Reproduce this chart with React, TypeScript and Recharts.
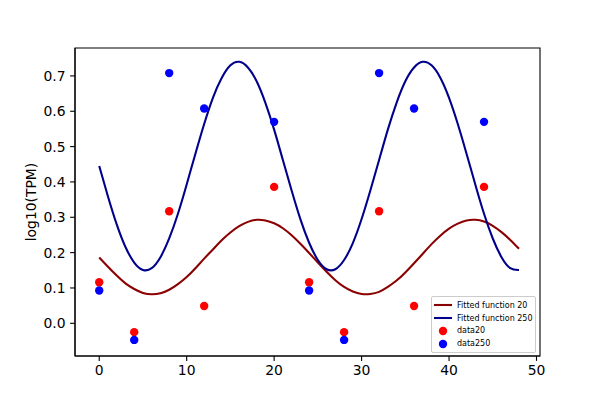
import {
  ComposedChart, Line, Scatter, XAxis, YAxis, ReferenceArea,
} from 'recharts'

const xTicks = [0, 10, 20, 30, 40, 50]
const yTicks = [0, 0.1, 0.2, 0.3, 0.4, 0.5, 0.6, 0.7]

// sample positions
const curveX = [
  0, 1, 2, 3, 4, 5, 6, 7, 8, 9, 10, 11, 12, 13, 14, 15, 16, 17, 18, 19, 20, 21, 22, 23, 24,
  25, 26, 27, 28, 29, 30, 31, 32, 33, 34, 35, 36, 37, 38, 39, 40, 41, 42, 43, 44, 45, 46, 47, 48,
]
const fit20 = [
  0.186, 0.160, 0.135, 0.113, 0.097, 0.086, 0.082, 0.085, 0.095, 0.111, 0.131, 0.156, 0.183,
  0.209, 0.235, 0.257, 0.275, 0.287, 0.293, 0.291, 0.283, 0.269, 0.249, 0.225, 0.199,
  0.172, 0.146, 0.122, 0.103, 0.090, 0.083, 0.083, 0.089, 0.103, 0.121, 0.144, 0.170,
  0.197, 0.224, 0.248, 0.268, 0.282, 0.291, 0.293, 0.288, 0.276, 0.258, 0.236, 0.211,
]
const fit250 = [
  0.445, 0.359, 0.280, 0.216, 0.172, 0.151, 0.156, 0.187, 0.240, 0.310, 0.393, 0.480, 0.564,
  0.638, 0.694, 0.730, 0.740, 0.724, 0.685, 0.624, 0.548, 0.462, 0.376, 0.295, 0.228,
  0.179, 0.153, 0.153, 0.179, 0.227, 0.295, 0.376, 0.462, 0.548, 0.624, 0.685, 0.724,
  0.740, 0.730, 0.695, 0.638, 0.564, 0.480, 0.393, 0.310, 0.240, 0.187, 0.156, 0.151,
]

const sampleX = [0, 4, 8, 12, 20, 24, 28, 32, 36, 44]
const data20 = [0.116, -0.025, 0.317, 0.049, 0.386, 0.116, -0.025, 0.317, 0.049, 0.386]
const data250 = [0.093, -0.047, 0.708, 0.608, 0.570, 0.093, -0.047, 0.708, 0.608, 0.570]

const X_DOMAIN: [number, number] = [-2.77, 50.4]
const Y_DOMAIN: [number, number] = [-0.0925, 0.779]

const pairs = (xs: number[], ys: number[]) => xs.map((x, i) => ({ x, y: ys[i] }))

const legendItems = [
  { name: 'Fitted function 20', color: '#8b0000', kind: 'line' },
  { name: 'Fitted function 250', color: '#00008b', kind: 'line' },
  { name: 'data20', color: '#ff0000', kind: 'dot' },
  { name: 'data250', color: '#0000ff', kind: 'dot' },
]

const dot = (color: string) => (props: any) => (
  <circle cx={props.cx} cy={props.cy} r={4.2} fill={color} />
)

function LegendBox() {
  return (
    <div style={{
      position: 'absolute',
      left: 431,
      top: 296,
      width: 99,
      border: '1px solid #cccccc',
      borderRadius: 2,
      background: 'rgba(255,255,255,0.8)',
      padding: '2px 3px 2px 1px',
      fontSize: 8,
      fontFamily: '"DejaVu Sans", sans-serif',
      color: '#000',
    }}>
      {legendItems.map((it) => (
        <div key={it.name} style={{ display: 'flex', alignItems: 'center', height: 12.8 }}>
          <svg width={20} height={10} style={{ marginRight: 4, flexShrink: 0 }}>
            {it.kind === 'line'
              ? <line x1={1} x2={19} y1={5} y2={5} stroke={it.color} strokeWidth={2.08} />
              : <circle cx={10} cy={5} r={4.2} fill={it.color} />}
          </svg>
          <span style={{ whiteSpace: 'nowrap' }}>{it.name}</span>
        </div>
      ))}
    </div>
  )
}

const tickStyle = { fill: '#000', fontSize: 13.9 }
const tickLine = { stroke: '#000', strokeWidth: 1.1 }

export default function App() {
  return (
    <div style={{ position: 'absolute', left: 0, top: 0, width: 600, height: 400, background: '#fff' }}>
      <ComposedChart
        width={600}
        height={400}
        margin={{ top: 48, right: 60, bottom: 0, left: 0 }}
        style={{ fontFamily: '"DejaVu Sans", sans-serif' }}
      >
        <XAxis
          type="number"
          dataKey="x"
          domain={X_DOMAIN}
          ticks={xTicks}
          allowDataOverflow
          height={44}
          tick={tickStyle}
          tickLine={tickLine}
          axisLine={{ stroke: '#000', strokeWidth: 1.1 }}
          tickSize={4.9}
          tickMargin={4.5}
        />
        <YAxis
          type="number"
          dataKey="y"
          domain={Y_DOMAIN}
          ticks={yTicks}
          allowDataOverflow
          width={75}
          tick={tickStyle}
          tickLine={tickLine}
          axisLine={{ stroke: '#000', strokeWidth: 1.1 }}
          tickSize={4.9}
          tickMargin={4.5}
          tickFormatter={(v) => (v as number).toFixed(1)}
          label={{
            value: 'log10(TPM)',
            angle: -90,
            position: 'insideLeft',
            offset: 31,
            fill: '#000',
            fontSize: 13.9,
            style: { textAnchor: 'middle' },
          }}
        />
        <ReferenceArea
          x1={X_DOMAIN[0]} x2={X_DOMAIN[1]} y1={Y_DOMAIN[0]} y2={Y_DOMAIN[1]}
          fill="none" stroke="#000" strokeWidth={1.1} ifOverflow="visible"
        />
        <Line
          data={pairs(curveX, fit20)}
          dataKey="y"
          name="Fitted function 20"
          type="natural"
          stroke="#8b0000"
          strokeWidth={2.08}
          dot={false}
          isAnimationActive={false}
        />
        <Line
          data={pairs(curveX, fit250)}
          dataKey="y"
          name="Fitted function 250"
          type="natural"
          stroke="#00008b"
          strokeWidth={2.08}
          dot={false}
          isAnimationActive={false}
        />
        <Scatter
          data={pairs(sampleX, data20)}
          dataKey="y"
          name="data20"
          fill="#ff0000"
          shape={dot('#ff0000')}
          isAnimationActive={false}
        />
        <Scatter
          data={pairs(sampleX, data250)}
          dataKey="y"
          name="data250"
          fill="#0000ff"
          shape={dot('#0000ff')}
          isAnimationActive={false}
        />
      </ComposedChart>
      <LegendBox />
    </div>
  )
}
